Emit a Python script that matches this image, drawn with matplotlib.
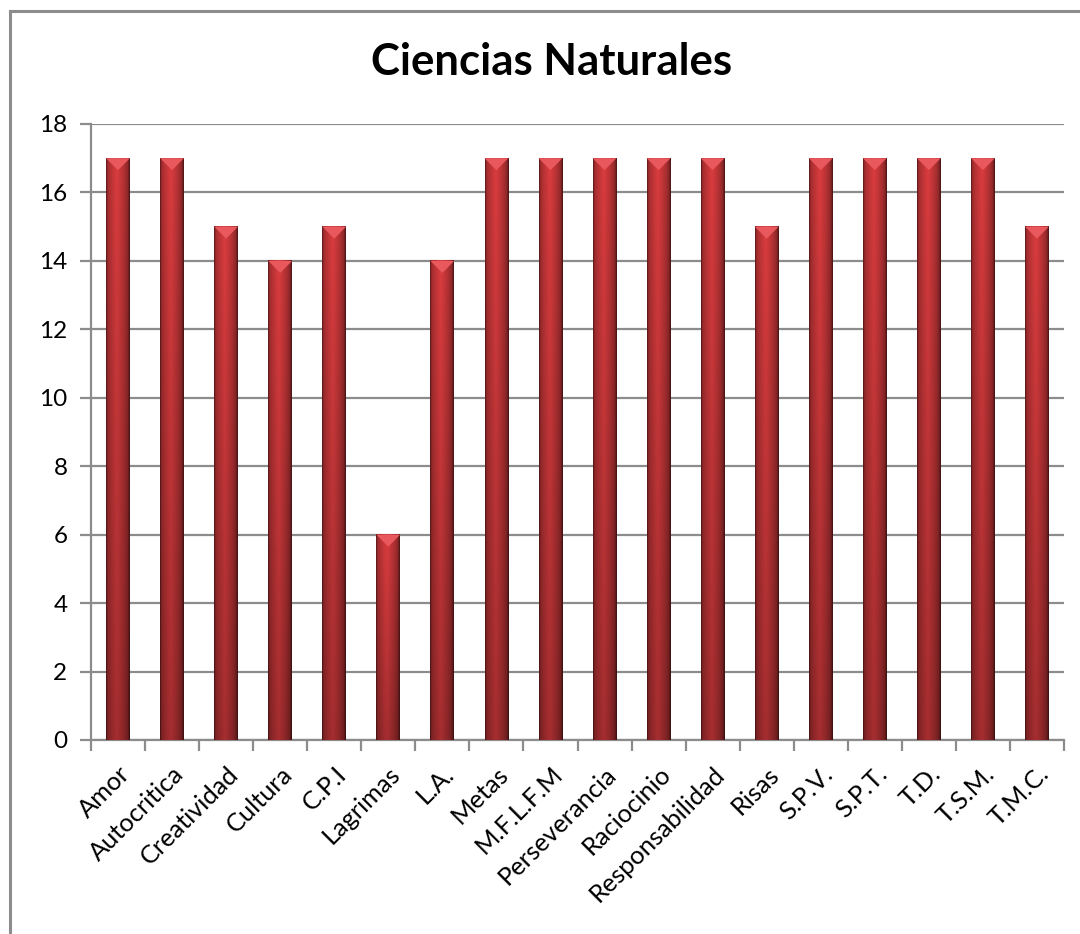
import numpy as np
import matplotlib
matplotlib.use("Agg")
import matplotlib.pyplot as plt
from matplotlib.lines import Line2D
from matplotlib.patches import Polygon

categories = ["Amor", "Autocritica", "Creatividad", "Cultura", "C.P.I", "Lagrimas",
              "L.A.", "Metas", "M.F.L.F.M", "Perseverancia", "Raciocinio",
              "Responsabilidad", "Risas", "S.P.V.", "S.P.T.", "T.D.", "T.S.M.", "T.M.C."]
values = [17, 17, 15, 14, 15, 6, 14, 17, 17, 17, 17, 17, 15, 17, 17, 17, 17, 15]
y_ticks = [0, 2, 4, 6, 8, 10, 12, 14, 16, 18]
title = "Ciencias Naturales"

plt.rcParams['font.family'] = ['Lato', 'DejaVu Sans']

fig = plt.figure(figsize=(10.8, 9.34), dpi=100)
ax = fig.add_axes([91/1080, 1-740/934, (1064-91)/1080, (740-124)/934])

x = np.arange(len(categories))
bars = ax.bar(x, values, width=0.44, color="#c0393b", zorder=2)

ax.set_xlim(-0.5, len(categories)-0.5)
ax.set_ylim(0, 18)
ax.set_yticks(y_ticks)
ax.yaxis.grid(True, color="#8c8c8c", linewidth=1.6, zorder=0)
ax.set_axisbelow(True)
for s in ["top", "right"]:
    ax.spines[s].set_visible(False)
for s in ["left", "bottom"]:
    ax.spines[s].set_color("#8c8c8c")
    ax.spines[s].set_linewidth(1.6)

ax.set_xticks(x)
ax.set_xticklabels(categories, rotation=45, ha="right", rotation_mode="anchor", fontsize=18.3)
ax.tick_params(axis="x", length=0, pad=16)
ax.set_xticks(np.arange(-0.5, len(categories)), minor=True)
ax.tick_params(axis="x", which="minor", length=8, width=1.6, color="#8c8c8c")
ax.tick_params(axis="y", length=8, width=1.6, color="#8c8c8c", labelsize=17.5, pad=9)

# bevelled gradient on each bar
W, H = 40, 200
xs = np.linspace(0, 1, W)
horiz = 0.60 + 0.47*np.clip(1 - np.abs(xs - 0.45)/0.5, 0, 1)**0.6
horiz[:2] *= 0.7
horiz[-2:] *= 0.7
ys = np.linspace(0, 1, H)[:, None]  # 0 top, 1 bottom
vert = 1.0 - 0.24*ys
base = np.array([0.80, 0.22, 0.23])
img = np.clip(base[None, None, :] * (horiz[None, :, None] * vert[:, :, None]), 0, 1)
for b in bars:
    x0, y0 = b.get_x(), b.get_y()
    w, h = b.get_width(), b.get_height()
    ax.imshow(img, extent=[x0, x0+w, y0, y0+h], aspect="auto", zorder=3,
              interpolation="bilinear")
    tri_h = 0.35
    tri = Polygon([[x0, y0+h], [x0+w, y0+h], [x0+w/2, y0+h-tri_h]],
                  closed=True, facecolor="#e8585c", edgecolor="none", zorder=4)
    ax.add_patch(tri)
    b.set_visible(False)

fig.text(552/1080, 1-62/934, title, ha="center", va="center", fontsize=31.5, fontweight="bold")

# chart border (top & left visible)
fig.add_artist(Line2D([10/1080, 10/1080], [0, 1-11/934], color="#8c8c8c", linewidth=2.2,
                      transform=fig.transFigure))
fig.add_artist(Line2D([10/1080, 1], [1-11/934, 1-11/934], color="#8c8c8c", linewidth=2.2,
                      transform=fig.transFigure))

fig.savefig("out.png", dpi=100)
